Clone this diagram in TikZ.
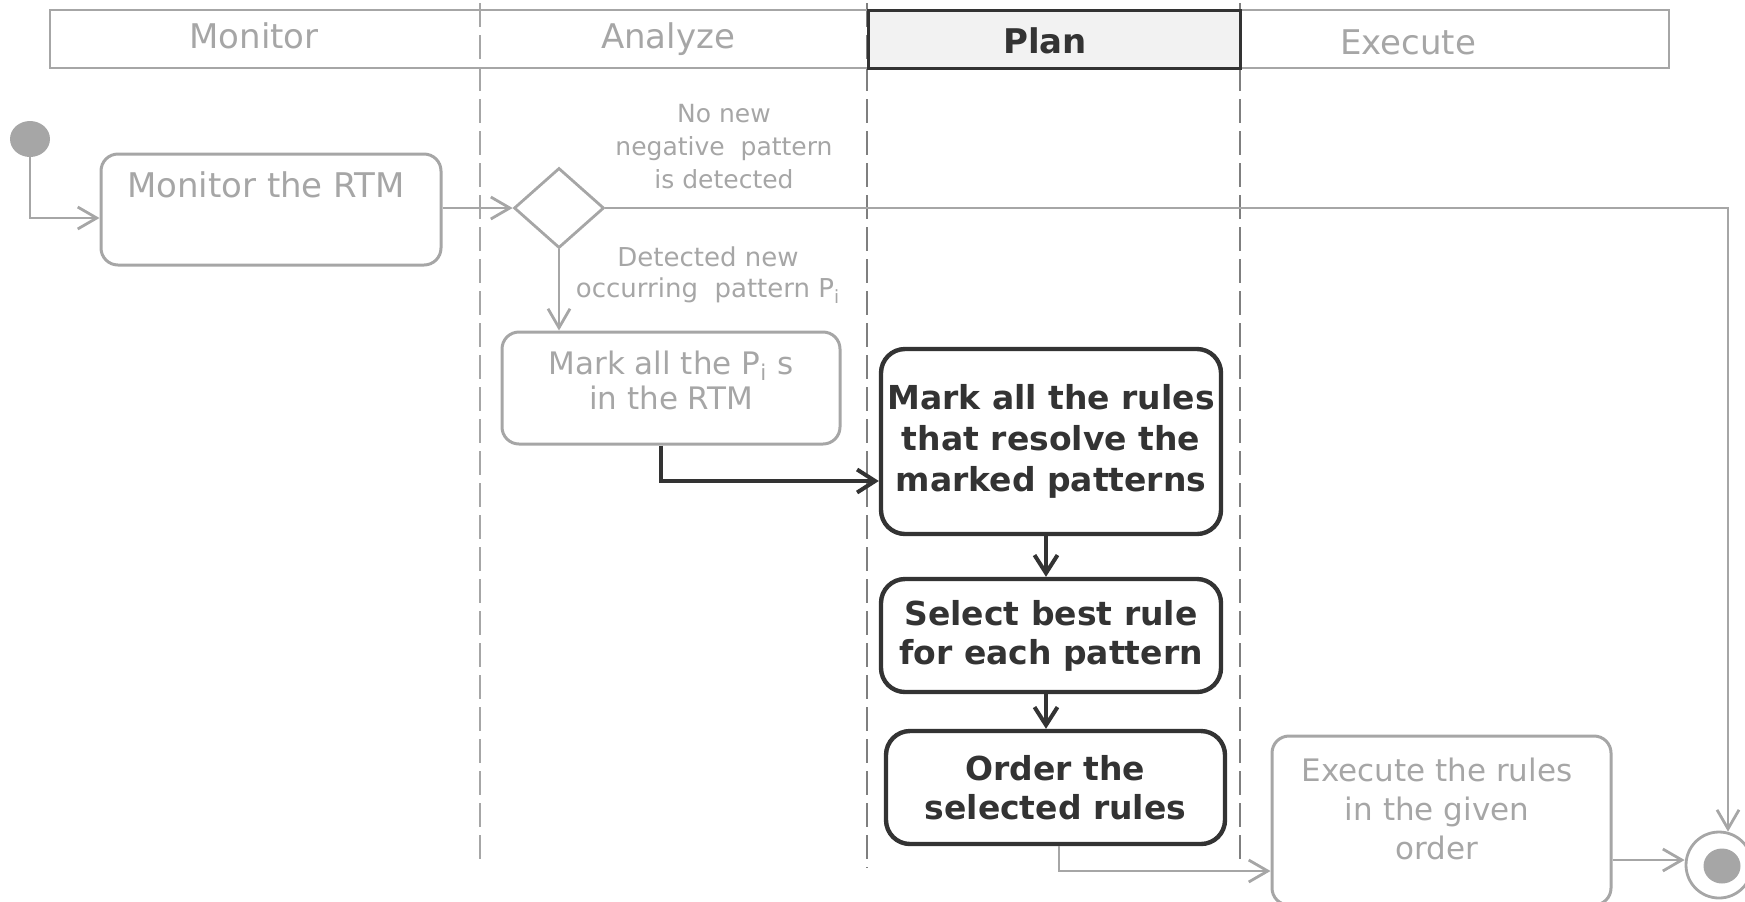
\documentclass[tikz,border=0pt]{standalone}
\usepackage{fontspec}
\setmainfont{DejaVu Sans}
\usetikzlibrary{shapes.geometric,arrows.meta,calc}
\definecolor{lgray}{HTML}{A6A6A6}
\definecolor{dgray}{HTML}{333333}
\definecolor{lanegray}{HTML}{7F7F7F}
\definecolor{planfill}{HTML}{F2F2F2}

\begin{document}
\begin{tikzpicture}[x=0.5pt,y=-0.5pt,
  lightbox/.style={draw=lgray, line width=1.5pt, rounded corners=8.5pt, inner sep=0pt},
  darkbox/.style={draw=dgray, line width=2.2pt, rounded corners=12pt, inner sep=0pt,
                  text=dgray, align=center, font=\bfseries},
  gtext/.style={text=lgray, align=center, inner sep=0pt},
  gflow/.style={draw=lgray, line width=1.4pt, -{Straight Barb[length=9.5pt,width=11pt]}},
  dflow/.style={draw=dgray, line width=2pt, -{Straight Barb[length=9pt,width=11.5pt]}},
  lane/.style={dash pattern=on 12pt off 4pt, line width=1pt},
  headtext/.style={inner sep=0pt, anchor=base, font=\fontsize{17pt}{20pt}\selectfont},
]
\useasboundingbox (0,0) rectangle (1745,901);

% swimlane separators
\draw[lane, draw=lgray] (480,3) -- (480,859);
\draw[lane, draw=lanegray] (867,3) -- (867,868);
\draw[lane, draw=lanegray] (1240,3) -- (1240,859);

% lane header
\draw[lgray, line width=1.4pt] (50,10) rectangle (1669,68);
\draw[dgray, line width=1.5pt, fill=planfill] (868,10) rectangle (1240,68);
\node[headtext, text=lgray] (hmon) at (254,48.5) {Monitor};
\node[headtext, text=lgray] (hana) at (668,48.5) {Analyze};
\node[headtext, text=dgray, font=\fontsize{17pt}{20pt}\selectfont\bfseries] (hpla) at (1045,53) {Plan};
\node[headtext, text=lgray] (hexe) at (1408,54) {Execute};

% start and end states
\node[ellipse, fill=lgray, inner sep=0pt, minimum width=20pt, minimum height=18pt] (init) at (30,139) {};
\node[circle, draw=lgray, line width=1.4pt, fill=white, inner sep=0pt, minimum size=33pt] (fin) at (1719,865) {};
\node[ellipse, fill=lgray, inner sep=0pt, minimum width=18.5pt, minimum height=17.5pt] (fincore) at (1722,866) {};

% monitor activity
\node[lightbox, minimum width=170pt, minimum height=55.5pt] (mon) at (271,209.5) {};
\node[gtext, font=\fontsize{17pt}{20pt}\selectfont] (montxt) at (266,185) {Monitor the RTM};

% decision
\node[diamond, draw=lgray, line width=1.4pt, inner sep=0pt, minimum width=45pt, minimum height=40pt] (dec) at (559,208) {};
\node[gtext, font=\fontsize{12.5pt}{16.5pt}\selectfont] (nonew) at (724,147) {No new\\negative\ \ pattern\\is detected};
\node[gtext, font=\fontsize{13pt}{15.5pt}\selectfont] (detnew) at (708,275) {Detected new\\occurring\ \ pattern P\textsubscript{i}};

% analyze activity
\node[lightbox, minimum width=169pt, minimum height=56pt] (mpi) at (671,388) {};
\node[gtext, font=\fontsize{15.5pt}{17.5pt}\selectfont] (mpitxt) at (671,380) {Mark all the P\textsubscript{i} s\\in the RTM};

% plan activities
\node[darkbox, minimum width=170pt, minimum height=92.5pt, font=\fontsize{16.5pt}{20.5pt}\selectfont\bfseries] (rules) at (1051,441.5) {Mark all the rules\\that resolve the\\marked patterns};
\node[darkbox, minimum width=170pt, minimum height=56.5pt, font=\fontsize{16.5pt}{19.5pt}\selectfont\bfseries] (sel) at (1051,635.5) {Select best rule\\for each pattern};
\node[darkbox, minimum width=169.5pt, minimum height=56.5pt, font=\fontsize{16.5pt}{19.5pt}\selectfont\bfseries] (ord) at (1055.5,787.5) {Order the\\selected rules};

% execute activity
\node[lightbox, minimum width=169.5pt, minimum height=84.5pt] (exe) at (1441.5,820.5) {};
\node[gtext, font=\fontsize{15.5pt}{19.5pt}\selectfont] (exetxt) at (1437,809) {Execute the rules\\in the given\\order};

% control flow
\draw[gflow] (init.south) |- ($(mon.west)+(0,8.5)$);
\draw[gflow] (mon.east |- dec.west) -- (dec.west);
\draw[gflow] (dec.east) -| ($(fin.north)+(9,1)$);
\draw[gflow] (dec.south) -- (dec.south |- mpi.north);
\draw[dflow] ($(mpi.south)+(-10,0)$) |- ($(rules.west)+(0,39.5)$);
\draw[dflow] ($(rules.south)+(-5,0)$) -- ($(sel.north)+(-5,0)$);
\draw[dflow] ($(sel.south)+(-5,0)$) -- ($(ord.north)+(-9.5,0)$);
\draw[gflow] ($(ord.south)+(3.5,0)$) |- ($(exe.west)+(0,50.5)$);
\draw[gflow] ($(exe.east)+(0,39.5)$) -- ($(fin.west)+(0,-5)$);
\end{tikzpicture}
\end{document}
